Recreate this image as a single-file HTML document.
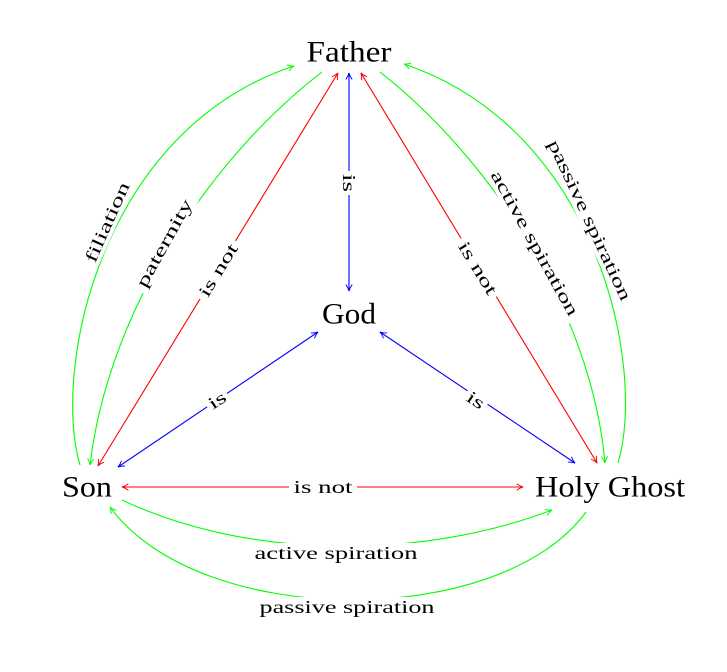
<!DOCTYPE html>
<html><head><meta charset="utf-8"><style>
html,body{margin:0;padding:0;background:#fff;}
svg{display:block;}
text{font-family:"Liberation Serif",serif;}
.n{font-size:30px;text-anchor:middle;dominant-baseline:central;}
.l{font-size:17.5px;text-anchor:middle;dominant-baseline:central;}
</style></head><body>
<svg width="727" height="672" viewBox="0 0 727 672" xmlns="http://www.w3.org/2000/svg">
<defs>
<marker id="ab" viewBox="0 0 10 10" refX="9" refY="5" markerWidth="8" markerHeight="8" orient="auto-start-reverse" markerUnits="userSpaceOnUse"><path d="M1,1 Q5,4 9,5 Q5,6 1,9" fill="none" stroke="blue" stroke-width="1.2"/></marker>
<marker id="ar" viewBox="0 0 10 10" refX="9" refY="5" markerWidth="8" markerHeight="8" orient="auto-start-reverse" markerUnits="userSpaceOnUse"><path d="M1,1 Q5,4 9,5 Q5,6 1,9" fill="none" stroke="red" stroke-width="1.2"/></marker>
<marker id="ag" viewBox="0 0 10 10" refX="9" refY="5" markerWidth="8" markerHeight="8" orient="auto-start-reverse" markerUnits="userSpaceOnUse"><path d="M1,1 Q5,4 9,5 Q5,6 1,9" fill="none" stroke="#0f0" stroke-width="1.2"/></marker>
</defs>
<g fill="none" stroke-width="1.1">
<line x1="349" y1="73" x2="349" y2="291" stroke="blue" marker-start="url(#ab)" marker-end="url(#ab)"/>
<line x1="318" y1="332" x2="118" y2="467" stroke="blue" marker-start="url(#ab)" marker-end="url(#ab)"/>
<line x1="380" y1="332" x2="575" y2="463" stroke="blue" marker-start="url(#ab)" marker-end="url(#ab)"/>
<line x1="338" y1="73" x2="98" y2="466" stroke="red" marker-start="url(#ar)" marker-end="url(#ar)"/>
<line x1="361" y1="73" x2="597" y2="463" stroke="red" marker-start="url(#ar)" marker-end="url(#ar)"/>
<line x1="122" y1="487" x2="523" y2="487" stroke="red" marker-start="url(#ar)" marker-end="url(#ar)"/>
<path d="M80,465 C52,370 100,130 294,66" stroke="#0f0" marker-end="url(#ag)"/>
<path d="M322,72 C220,150 110,300 90,465" stroke="#0f0" marker-end="url(#ag)"/>
<path d="M380,72 C480,150 590,300 605,463" stroke="#0f0" marker-end="url(#ag)"/>
<path d="M618,463 C646,370 600,130 404,64" stroke="#0f0" marker-end="url(#ag)"/>
<path d="M122,500 C250,560 420,560 552,510" stroke="#0f0" marker-end="url(#ag)"/>
<path d="M586,512 C500,630 200,630 110,507" stroke="#0f0" marker-end="url(#ag)"/>
</g>
<g class="l">
<g transform="translate(349,183) rotate(90)"><rect x="-12" y="-10" width="24" height="20" fill="#fff"/><text textLength="18" lengthAdjust="spacingAndGlyphs">is</text></g>
<g transform="translate(217,400) rotate(-34)"><rect x="-12" y="-10" width="24" height="20" fill="#fff"/><text textLength="18" lengthAdjust="spacingAndGlyphs">is</text></g>
<g transform="translate(476,400) rotate(34)"><rect x="-12" y="-10" width="24" height="20" fill="#fff"/><text textLength="18" lengthAdjust="spacingAndGlyphs">is</text></g>
<g transform="translate(218,270) rotate(-58.6)"><rect x="-34" y="-10" width="68" height="20" fill="#fff"/><text textLength="59" lengthAdjust="spacingAndGlyphs">is not</text></g>
<g transform="translate(478,268) rotate(58.6)"><rect x="-34" y="-10" width="68" height="20" fill="#fff"/><text textLength="59" lengthAdjust="spacingAndGlyphs">is not</text></g>
<g transform="translate(323,487)"><rect x="-34" y="-10" width="68" height="20" fill="#fff"/><text textLength="59" lengthAdjust="spacingAndGlyphs">is not</text></g>
<g transform="translate(107,222) rotate(-66)"><rect x="-48" y="-10" width="96" height="20" fill="#fff"/><text textLength="86" lengthAdjust="spacingAndGlyphs">filiation</text></g>
<g transform="translate(164,243) rotate(-61)"><rect x="-54" y="-10" width="108" height="20" fill="#fff"/><text textLength="98" lengthAdjust="spacingAndGlyphs">paternity</text></g>
<g transform="translate(535,243) rotate(61)"><rect x="-87" y="-10" width="174" height="20" fill="#fff"/><text textLength="163" lengthAdjust="spacingAndGlyphs">active spiration</text></g>
<g transform="translate(590,220) rotate(65)"><rect x="-93" y="-10" width="186" height="20" fill="#fff"/><text textLength="175" lengthAdjust="spacingAndGlyphs">passive spiration</text></g>
<g transform="translate(336,553)"><rect x="-87" y="-10" width="174" height="20" fill="#fff"/><text textLength="163" lengthAdjust="spacingAndGlyphs">active spiration</text></g>
<g transform="translate(347,607)"><rect x="-93" y="-10" width="186" height="20" fill="#fff"/><text textLength="175" lengthAdjust="spacingAndGlyphs">passive spiration</text></g>
</g>
<g class="n">
<text x="349" y="52" textLength="85" lengthAdjust="spacingAndGlyphs">Father</text>
<text x="349" y="314" textLength="54" lengthAdjust="spacingAndGlyphs">God</text>
<text x="87" y="487" textLength="50" lengthAdjust="spacingAndGlyphs">Son</text>
<text x="610" y="487" textLength="150" lengthAdjust="spacingAndGlyphs">Holy Ghost</text>
</g>
</svg>
</body></html>
